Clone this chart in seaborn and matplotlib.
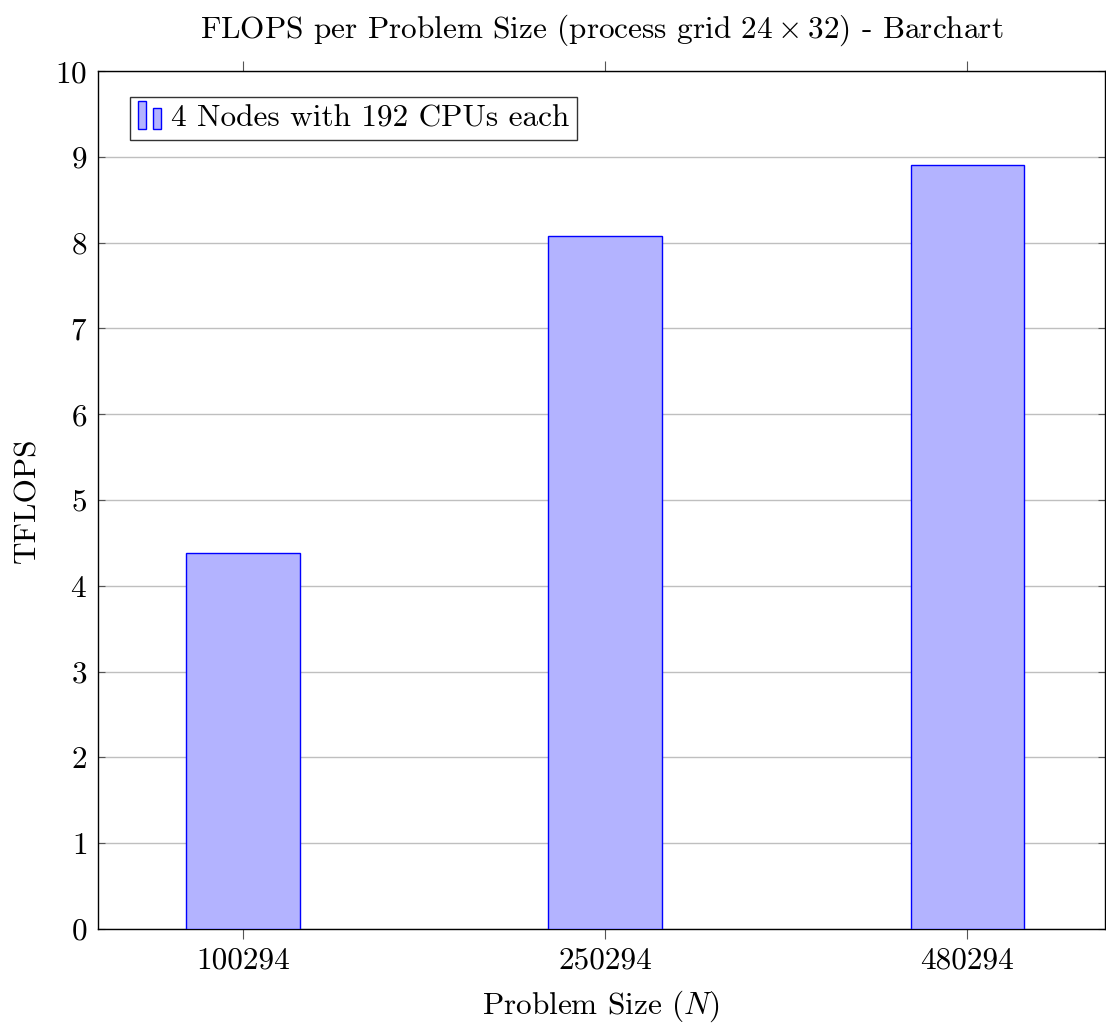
import matplotlib
matplotlib.use("Agg")
import matplotlib.pyplot as plt
import seaborn as sns
from matplotlib.legend_handler import HandlerBase
from matplotlib.patches import Rectangle, Patch

problem_sizes = ["100294", "250294", "480294"]
tflops = [4.38, 8.08, 8.91]
series_label = "4 Nodes with 192 CPUs each"

sns.set_theme(style="white")
plt.rcParams["font.family"] = ["cmr10", "DejaVu Serif"]
plt.rcParams["mathtext.fontset"] = "cm"
plt.rcParams["axes.formatter.use_mathtext"] = True
plt.rcParams["text.color"] = "black"
plt.rcParams["axes.labelcolor"] = "black"
plt.rcParams["xtick.labelcolor"] = "black"
plt.rcParams["ytick.labelcolor"] = "black"

fill = "#b3b3ff"
edge = "#0000ff"
fs = 22.5

fig = plt.figure(figsize=(11.06, 10.25), dpi=100)
ax = fig.add_axes([0.0886, 0.0937, 0.9104, 0.837])

sns.barplot(x=problem_sizes, y=tflops, color=fill, edgecolor=edge,
            linewidth=1.0, saturation=1, width=0.313, ax=ax, zorder=3)

ax.set_xlim(-0.4, 2.38)
ax.set_ylim(0, 10)
ax.set_yticks(range(0, 11))
ax.yaxis.grid(True, color="#bfbfbf", linewidth=1.0, zorder=0)
ax.set_axisbelow(True)
for s in ax.spines.values():
    s.set_color("black")
    s.set_linewidth(1.0)
ax.tick_params(axis="x", which="both", bottom=True, top=True, direction="out",
               length=7, width=0.8, color="#555555", labelsize=fs, pad=6)
ax.tick_params(axis="y", left=True, right=True, direction="in",
               length=5, width=0.8, color="#555555", labelsize=fs, pad=8)

ax.set_xlabel(r"Problem Size ($N$)", fontsize=fs, labelpad=10)
ax.set_ylabel("TFLOPS", fontsize=fs, labelpad=10)
ax.set_title(r"FLOPS per Problem Size (process grid $24\times32$) - Barchart",
             fontsize=fs, pad=24)


class TwoBarHandler(HandlerBase):
    def create_artists(self, legend, orig_handle, xdescent, ydescent,
                       width, height, fontsize, trans):
        w = width * 0.3
        r1 = Rectangle((-xdescent + 0.0 * width, -ydescent - 0.1 * height), w, height * 1.25,
                       facecolor=fill, edgecolor=edge, linewidth=1.0, transform=trans)
        r2 = Rectangle((-xdescent + 0.55 * width, -ydescent - 0.1 * height), w, height * 0.95,
                       facecolor=fill, edgecolor=edge, linewidth=1.0, transform=trans)
        return [r1, r2]


handle = Patch(facecolor=fill, edgecolor=edge)
leg = ax.legend([handle], [series_label], handler_map={Patch: TwoBarHandler()},
                loc="upper left", bbox_to_anchor=(0.032, 0.97), fontsize=fs,
                frameon=True, fancybox=False, edgecolor="black",
                handlelength=0.85, handletextpad=0.2, borderpad=0.25,
                borderaxespad=0.0)
leg.get_frame().set_linewidth(1.0)

fig.savefig("out.png", dpi=100)
